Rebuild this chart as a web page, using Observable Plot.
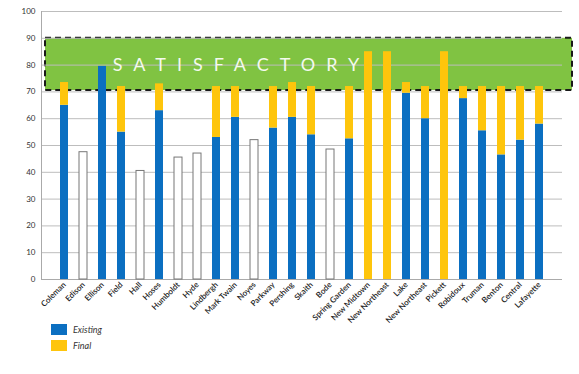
<!DOCTYPE html>
<html>
<head>
<meta charset="utf-8">
<script src="https://cdn.jsdelivr.net/npm/d3@7"></script>
<script src="https://cdn.jsdelivr.net/npm/@observablehq/plot@0.6"></script>
<style>
  body { margin: 0; background: #fff; font-family: Lato, "Open Sans", sans-serif; }
  #wrap { position: relative; width: 579px; height: 374px; }
  #legend { position: absolute; left: 51px; top: 324px; font-size: 9px; font-style: italic; color: #333; }
  .item { display: flex; align-items: center; height: 11px; margin-bottom: 5px; }
  .sw { width: 16px; height: 11px; margin-right: 6px; }
</style>
</head>
<body>
<div id="wrap">
  <div id="chart"></div>
  <div id="legend"></div>
</div>
<script>
const schools = ["Coleman","Edison","Ellison","Field","Hall","Hoses","Humboldt","Hyde","Lindbergh","Mark Twain","Noyes","Parkway","Pershing","Skaith","Bode","Spring Garden","New Midtown","New Northeast","Lake","New Northeast","Pickett","Robidoux","Truman","Benton","Central","Lafayette"];
const existing = [65, 47.5, 79.5, 55, 40.5, 63, 45.5, 47, 53, 60.5, 52, 56.5, 60.5, 54, 48.5, 52.5, null, null, 69.5, 60, null, 67.5, 55.5, 46.5, 52, 58];
const finalVals = [73.5, null, 79.5, 72, null, 73, null, null, 72, 72, null, 72, 73.5, 72, null, 72, 85, 85, 73.5, 72, 85, 72, 72, 72, 72, 72];
const yTicks = [0, 10, 20, 30, 40, 50, 60, 70, 80, 90, 100];
const seriesNames = ["Existing", "Final"];
const bandLabel = "SATISFACTORY";
const bandRange = [70.5, 90];

const colors = {Existing: "#0b6fc1", Final: "#fec50c"};
const green = "#80c342";

const rows = schools.map((s, i) => ({i, name: s, existing: existing[i], final: finalVals[i]}));
const blueRows = rows.filter(d => d.existing != null && d.final != null);
const yellowRows = rows.filter(d => d.final != null && (d.existing == null || d.final > d.existing))
  .map(d => ({i: d.i, y1: d.existing == null ? 0 : d.existing, y2: d.final}));
const whiteRows = rows.filter(d => d.final == null);

const shadow = "drop-shadow(1px 0px 0.6px rgba(0,0,0,0.35))";

const chart = Plot.plot({
  width: 579,
  height: 330,
  marginLeft: 41,
  marginRight: 17,
  marginTop: 11,
  marginBottom: 51,
  style: {fontFamily: "Lato, 'Open Sans', sans-serif", background: "white"},
  x: {domain: d3.range(schools.length), padding: 0.6, tickFormat: i => schools[i], tickRotate: -45, tickSize: 0, tickPadding: 3, label: null},
  y: {domain: [0, 100], ticks: yTicks, tickSize: 0, tickPadding: 6, label: null},
  marks: [
    Plot.rectY([{lo: bandRange[0], hi: bandRange[1]}], {y1: "lo", y2: "hi", fill: green, stroke: "#1a1a1a", strokeWidth: 2, strokeDasharray: "6,4", insetLeft: 4, insetRight: -10}),
    Plot.gridY(yTicks, {stroke: "#bdbdbd", strokeOpacity: 1, strokeWidth: 1}),
    Plot.frame({anchor: "left", stroke: "#aaa"}),
    Plot.ruleY([0], {stroke: "#aaa"}),
    Plot.rectY(whiteRows, {x: "i", y: "existing", fill: "white", stroke: "#777", strokeWidth: 1, style: {filter: shadow}}),
    Plot.rectY(blueRows, {x: "i", y: "existing", fill: colors.Existing, style: {filter: shadow}}),
    Plot.rectY(yellowRows, {x: "i", y1: "y1", y2: "y2", fill: colors.Final, style: {filter: shadow}}),
    Plot.text([bandLabel], {x: () => 9, y: () => 80, text: d => d, fill: "#f4faee", fontSize: 18, fontWeight: 400, dx: 6, className: "band-label"}),
    Plot.axisY({ticks: yTicks, tickSize: 0, tickPadding: 6, fontSize: 8, fill: "#333"}),
    Plot.axisX({tickFormat: i => schools[i], tickRotate: -45, tickSize: 0, tickPadding: 4, fontSize: 8, fontWeight: 600, fill: "#222"})
  ]
});
d3.select(chart).selectAll(".band-label text").attr("letter-spacing", "11px");
document.getElementById("chart").appendChild(chart);

const legend = d3.select("#legend");
seriesNames.forEach(n => {
  const it = legend.append("div").attr("class", "item");
  it.append("div").attr("class", "sw").style("background", colors[n]);
  it.append("span").text(n);
});
</script>
</body>
</html>
